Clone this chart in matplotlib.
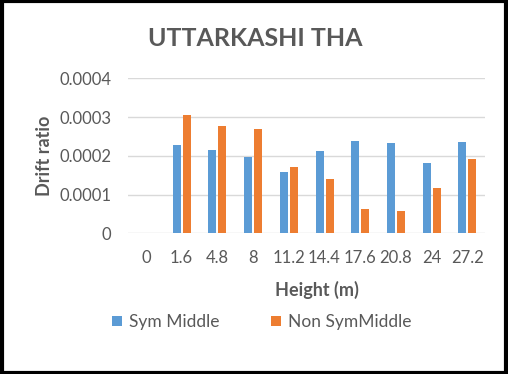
import numpy as np
import matplotlib
matplotlib.use("Agg")
import matplotlib.pyplot as plt
from matplotlib.patches import Rectangle

plt.rcParams['font.family'] = ['Lato', 'DejaVu Sans']

heights = ['0', '1.6', '4.8', '8', '11.2', '14.4', '17.6', '20.8', '24', '27.2']
sym_middle = [0, 0.000228, 0.000215, 0.000197, 0.000158, 0.000212, 0.000238, 0.000233, 0.000181, 0.000236]
non_sym_middle = [0, 0.000305, 0.000277, 0.000270, 0.000171, 0.000140, 0.000063, 0.000058, 0.000117, 0.000192]

txt = '#595959'
fig = plt.figure(figsize=(5.08, 3.74), dpi=100)
ax = fig.add_axes([0.252, 0.3762, 0.7027, 0.4144])

x = np.arange(len(heights))
w = 0.225
ax.bar(x - 0.135, sym_middle, w, color='#5b9bd5', label='Sym Middle', zorder=3)
ax.bar(x + 0.145, non_sym_middle, w, color='#ed7d31', label='Non SymMiddle', zorder=3)

ax.set_xlim(-0.5, len(heights) - 0.5)
ax.set_ylim(0, 0.0004)
ax.set_yticks([0, 0.0001, 0.0002, 0.0003, 0.0004])
ax.set_yticklabels(['0', '0.0001', '0.0002', '0.0003', '0.0004'])
ax.set_xticks(x)
ax.set_xticklabels(heights)
ax.grid(axis='y', color='#d9d9d9', linewidth=1, zorder=0)
for s in ax.spines.values():
    s.set_visible(False)
ax.tick_params(length=0, labelsize=12, labelcolor=txt, pad=12)
ax.tick_params(axis='y', pad=12)

ax.set_ylabel('Drift ratio', fontsize=13, fontweight='bold', color=txt)
ax.yaxis.set_label_coords(-0.21, 0.5)
ax.set_xlabel('Height (m)', fontsize=13, fontweight='bold', color=txt)
ax.xaxis.set_label_coords(0.53, -0.31)

fig.text(0.502, 0.898, 'UTTARKASHI THA', ha='center', va='center',
         fontsize=18, fontweight='bold', color=txt)

fig.legend(loc='center', bbox_to_anchor=(0.515, 0.138), ncol=2, frameon=False,
           fontsize=12.5, labelcolor=txt, handlelength=0.55, handleheight=0.55,
           handletextpad=0.4, columnspacing=3.0)

fig.patches.append(Rectangle((0.003, 0.004), 0.994, 0.992, transform=fig.transFigure,
                             fill=False, edgecolor='black', linewidth=3))

fig.savefig('out.png', dpi=100)
